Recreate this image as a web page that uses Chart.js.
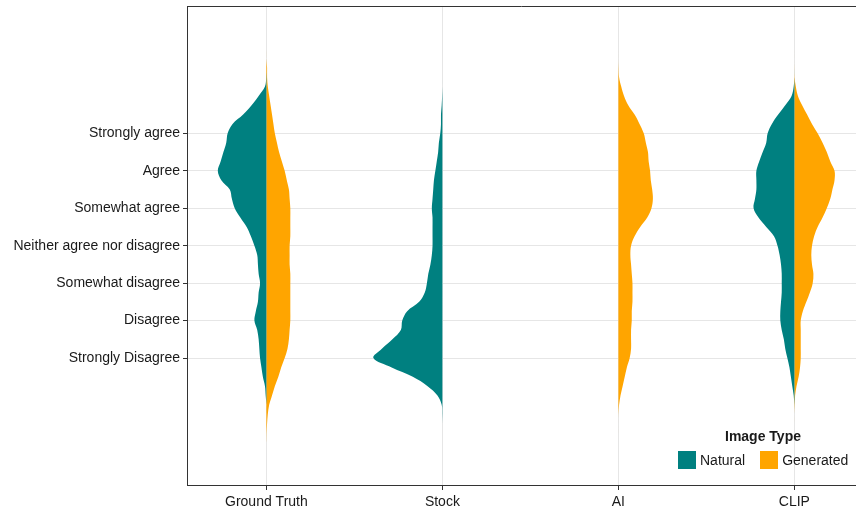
<!DOCTYPE html>
<html>
<head>
<meta charset="utf-8">
<script src="https://cdn.jsdelivr.net/npm/chart.js@4.4.1/dist/chart.umd.min.js"></script>
<style>
  html, body { margin: 0; padding: 0; background: #fff; }
  #wrap { position: relative; width: 856px; height: 512px; }
  #legend { position: absolute; left: 672px; top: 426px; width: 184px; font-family: "Liberation Sans", Arial, sans-serif; font-size: 14px; color: #1a1a1a; }
  #legend .title { position: absolute; left: 0; top: 2px; width: 182px; text-align: center; font-weight: bold; line-height: 16px; }
  #legend .row { position: absolute; left: 6px; top: 25px; height: 18px; display: flex; align-items: center; white-space: nowrap; }
  #legend .sw { display: inline-block; width: 18px; height: 18px; margin-right: 4px; }
</style>
</head>
<body>
<div id="wrap">
  <canvas id="chart" width="856" height="512"></canvas>
  <div id="legend">
    <div class="title">Image Type</div>
    <div class="row">
      <span class="sw" style="background:#008080"></span><span style="margin-right:15px">Natural</span>
      <span class="sw" style="background:#FFA500"></span><span>Generated</span>
    </div>
  </div>
</div>
<script>
const groups = ['Ground Truth', 'Stock', 'AI', 'CLIP'];
const responses = ['Strongly Disagree', 'Disagree', 'Somewhat disagree', 'Neither agree nor disagree',
                   'Somewhat agree', 'Agree', 'Strongly agree'];

const grid = [9.25, 9, 8.75, 8.5, 8.25, 8, 7.75, 7.5, 7.25, 7, 6.75, 6.5, 6.25, 6, 5.75, 5.5, 5.25, 5,
              4.75, 4.5, 4.25, 4, 3.75, 3.5, 3.25, 3, 2.75, 2.5, 2.25, 2, 1.75, 1.5, 1.25, 1,
              0.75, 0.5, 0.25, 0, -0.25, -0.5, -0.75, -1, -1.25];

// relative density per half violin
const gtNatural     = [0,0,0,0.003,0.02,0.11,0.21,0.33,0.48,0.55, 0.57,0.61,0.65,0.69,0.64,0.52,0.49,0.45,0.37,0.28,
                       0.22,0.17,0.13,0.12,0.11,0.09,0.11,0.12,0.15,0.17, 0.13,0.11,0.10,0.09,0.07,0.05,0.02,0.01,0,0, 0,0,0];
const gtGenerated   = [0,0,0.01,0.01,0.02,0.04,0.06,0.08,0.10,0.12, 0.15,0.18,0.22,0.26,0.29,0.32,0.33,0.34,0.34,0.34,
                       0.34,0.33,0.33,0.33,0.34,0.34,0.34,0.34,0.34,0.34, 0.33,0.32,0.30,0.26,0.21,0.17,0.12,0.08,0.04,0.02, 0.01,0.003,0];
const stockNatural  = [0,0,0,0,0,0.004,0.01,0.02,0.02,0.03, 0.05,0.06,0.08,0.10,0.12,0.13,0.14,0.15,0.14,0.14,
                       0.14,0.14,0.15,0.17,0.20,0.22,0.25,0.33,0.50,0.57, 0.59,0.71,0.86,0.98,0.72,0.42,0.21,0.07,0.01,0.003, 0,0,0];
const aiGenerated   = [0,0,0.003,0.01,0.04,0.08,0.14,0.23,0.30,0.36, 0.39,0.42,0.43,0.45,0.46,0.48,0.49,0.47,0.41,0.31,
                       0.23,0.18,0.17,0.18,0.19,0.20,0.20,0.20,0.19,0.19, 0.18,0.18,0.18,0.16,0.12,0.09,0.06,0.03,0.01,0.001, 0,0,0];
const clipNatural   = [0,0,0,0,0.01,0.04,0.13,0.23,0.32,0.38, 0.40,0.45,0.50,0.54,0.54,0.54,0.56,0.58,0.51,0.40,
                       0.29,0.24,0.21,0.19,0.18,0.18,0.18,0.19,0.20,0.20, 0.18,0.15,0.13,0.10,0.07,0.05,0.03,0.01,0.001,0, 0,0,0];
const clipGenerated = [0,0,0.001,0.003,0.02,0.05,0.11,0.18,0.25,0.33, 0.40,0.46,0.51,0.57,0.57,0.54,0.51,0.46,0.40,0.33,
                       0.28,0.25,0.24,0.25,0.27,0.26,0.22,0.17,0.12,0.09, 0.09,0.09,0.09,0.09,0.08,0.06,0.03,0.01,0.004,0, 0,0,0];

const NATURAL = '#008080', GENERATED = '#FFA500';
const halfWidth = 0.4;
const font = {family: '"Liberation Sans", Arial, sans-serif', size: 14};

// one half violin: outer edge down, then back up the spine
const half = (density, center, side, color) => {
  const edge = grid.map((v, i) => ({x: center + side * density[i] * halfWidth, y: v}));
  const spine = grid.slice(1, -1).reverse().map(v => ({x: center, y: v}));
  return {
    data: edge.concat(spine), showLine: true, fill: 'shape', tension: 0.35,
    backgroundColor: color, borderColor: 'rgba(0,0,0,0)', borderWidth: 0, pointRadius: 0
  };
};

const frame = {
  id: 'frame',
  afterDraw(chart) {
    const {ctx, chartArea: a} = chart;
    ctx.save();
    ctx.strokeStyle = '#333';
    ctx.lineWidth = 1;
    ctx.beginPath();
    ctx.moveTo(a.left, a.top + 0.5);
    ctx.lineTo(a.right, a.top + 0.5);
    ctx.stroke();
    ctx.restore();
  }
};

new Chart(document.getElementById('chart'), {
  type: 'scatter',
  data: {
    datasets: [
      half(gtNatural, 1, -1, NATURAL),
      half(gtGenerated, 1, 1, GENERATED),
      half(stockNatural, 2, -1, NATURAL),
      half(aiGenerated, 3, 1, GENERATED),
      half(clipNatural, 4, -1, NATURAL),
      half(clipGenerated, 4, 1, GENERATED)
    ]
  },
  options: {
    responsive: false,
    animation: false,
    layout: {padding: {top: 6, right: 0, left: 0, bottom: 0}},
    plugins: {legend: {display: false}, tooltip: {enabled: false}},
    scales: {
      x: {
        type: 'linear', min: 0.549, max: 4.35,
        afterBuildTicks: s => { s.ticks = groups.map((g, i) => ({value: i + 1})); },
        afterFit: s => { s.height = 27; s.paddingLeft = 0; s.paddingRight = 0; },
        ticks: {callback: v => groups[v - 1], font, color: '#1a1a1a', padding: 4, autoSkip: false, maxRotation: 0},
        grid: {color: '#e6e6e6', lineWidth: 1, tickLength: 5, tickColor: '#333'},
        border: {color: '#333', width: 1}
      },
      y: {
        type: 'linear', min: -2.39, max: 10.40,
        afterBuildTicks: s => { s.ticks = responses.map((r, i) => ({value: i + 1})); },
        afterFit: s => { s.width = 187; s.paddingTop = 0; s.paddingBottom = 0; },
        ticks: {callback: v => responses[v - 1], font, color: '#1a1a1a', padding: 3, autoSkip: false},
        grid: {color: '#e6e6e6', lineWidth: 1, tickLength: 4, tickColor: '#333'},
        border: {color: '#333', width: 1}
      }
    }
  },
  plugins: [frame]
});
</script>
</body>
</html>
